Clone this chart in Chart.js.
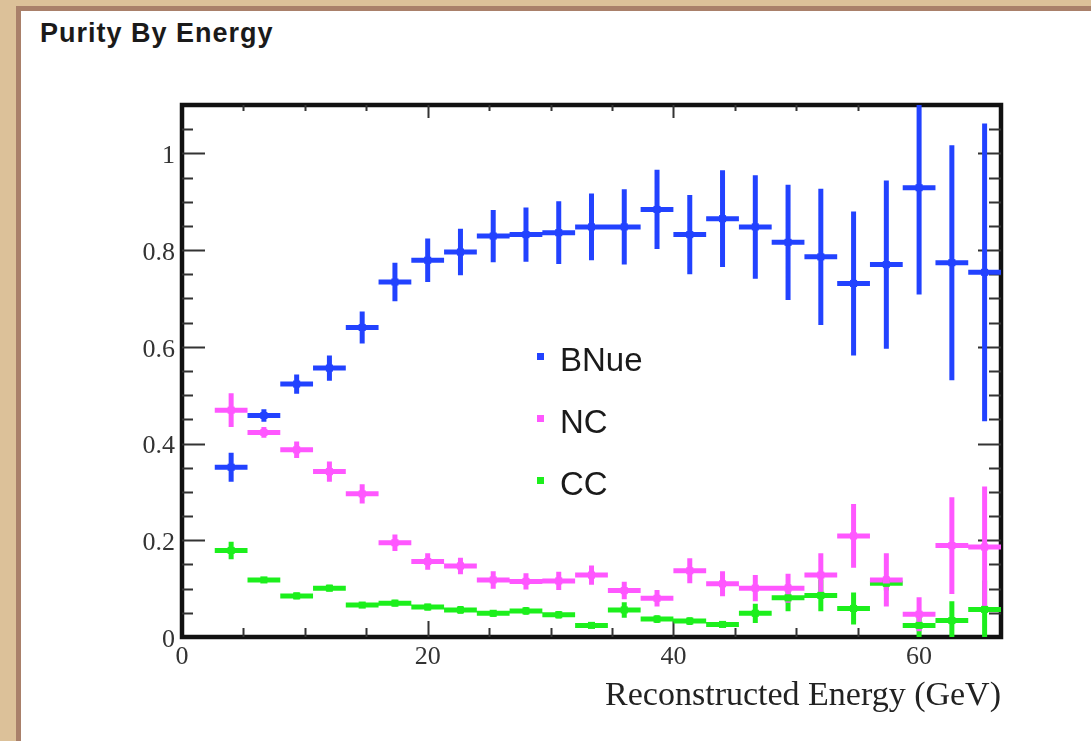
<!DOCTYPE html>
<html>
<head>
<meta charset="utf-8">
<script src="https://cdn.jsdelivr.net/npm/chart.js@4.4.1/dist/chart.umd.min.js"></script>
<style>
  html, body { margin: 0; padding: 0; }
  body { width: 1091px; height: 741px; background: #dcc199; position: relative; overflow: hidden; }
  #panel { position: absolute; left: 16px; top: 6px; right: 0; bottom: 0; background: #fff;
           border-left: 5px solid #a9806a; border-top: 5px solid #a9806a; }
  #title { position: absolute; left: 40px; top: 20px; font: bold 27px "Liberation Sans", Arial, sans-serif;
           line-height: 27px; color: #1a1a1a; letter-spacing: 1px; white-space: nowrap; }
  #chart { position: absolute; left: 0; top: 0; }
</style>
</head>
<body>
<div id="panel"></div>
<div id="title">Purity By Energy</div>
<canvas id="chart" width="1091" height="741"></canvas>
<script>
// reconstructed energy bins (GeV), 24 bins of 8/3 GeV
const binEdges = [2.667, 5.333, 8, 10.667, 13.333, 16, 18.667, 21.333, 24, 26.667, 29.333, 32,
  34.667, 37.333, 40, 42.667, 45.333, 48, 50.667, 53.333, 56, 58.667, 61.333, 64, 66.667];
const binCenters = [4, 6.667, 9.333, 12, 14.667, 17.333, 20, 22.667, 25.333, 28, 30.667, 33.333,
  36, 38.667, 41.333, 44, 46.667, 49.333, 52, 54.667, 57.333, 60, 62.667, 65.333];

const seriesNames = ['BNue', 'NC', 'CC'];
const seriesColors = ['#2242ff', '#ff57ff', '#1cef1c'];

const bnue = [0.351, 0.458, 0.523, 0.556, 0.640, 0.734, 0.779, 0.796, 0.829, 0.832, 0.836, 0.848,
  0.848, 0.884, 0.832, 0.865, 0.848, 0.816, 0.786, 0.731, 0.770, 0.929, 0.774, 0.754];
const bnueErr = [0.030, 0.013, 0.020, 0.026, 0.033, 0.040, 0.045, 0.048, 0.054, 0.056, 0.065, 0.069,
  0.078, 0.082, 0.082, 0.100, 0.107, 0.119, 0.141, 0.149, 0.174, 0.221, 0.243, 0.308];

const nc = [0.469, 0.423, 0.387, 0.342, 0.296, 0.195, 0.156, 0.147, 0.118, 0.115, 0.116, 0.128,
  0.096, 0.080, 0.137, 0.110, 0.101, 0.101, 0.128, 0.209, 0.118, 0.047, 0.189, 0.186];
const ncErr = [0.035, 0.011, 0.017, 0.021, 0.020, 0.017, 0.017, 0.017, 0.018, 0.017, 0.019, 0.020,
  0.018, 0.017, 0.026, 0.026, 0.027, 0.030, 0.045, 0.066, 0.055, 0.035, 0.100, 0.125];

const cc = [0.179, 0.118, 0.085, 0.101, 0.066, 0.070, 0.062, 0.056, 0.049, 0.054, 0.046, 0.024,
  0.056, 0.037, 0.033, 0.026, 0.049, 0.081, 0.086, 0.059, 0.111, 0.024, 0.034, 0.057];
const ccErr = [0.018, 0.006, 0.007, 0.007, 0.006, 0.007, 0.007, 0.008, 0.007, 0.008, 0.008, 0.005,
  0.016, 0.008, 0.008, 0.006, 0.020, 0.028, 0.033, 0.033, 0.015, 0.025, 0.040, 0.060];

const serif = '"Liberation Serif", "Times New Roman", serif';

function points(vals, errs) {
  return vals.map((v, i) => ({ x: binCenters[i], y: v, err: errs[i] }));
}

// ROOT-style frame with inward ticks, bin-wide error crosses and in-pad legend
const rootStyle = {
  id: 'rootStyle',
  beforeDatasetsDraw(chart) {
    const { ctx, chartArea: a, scales: { x, y } } = chart;
    ctx.save();
    ctx.strokeStyle = '#111';
    ctx.lineWidth = 4.5;
    ctx.strokeRect(a.left, a.top, a.right - a.left, a.bottom - a.top);

    ctx.strokeStyle = '#333';
    ctx.lineWidth = 2;
    ctx.beginPath();
    x.ticks.forEach(t => {
      const v = t.value;
      if (v <= x.min || v >= x.max || Math.abs(v / 5 - Math.round(v / 5)) > 1e-6) return;
      const major = Math.abs(v % 20) < 1e-6;
      const px = Math.round(x.getPixelForValue(v)) + 0.5;
      ctx.moveTo(px, a.bottom); ctx.lineTo(px, a.bottom - (major ? 16 : 9));
      ctx.moveTo(px, a.top); ctx.lineTo(px, a.top + (major ? 13 : 6));
    });
    y.ticks.forEach(t => {
      const v = t.value;
      if (v <= y.min || v >= y.max - 1e-6) return;
      const major = Math.round(v * 100) % 20 === 0;
      const py = Math.round(y.getPixelForValue(v)) + 0.5;
      ctx.moveTo(a.left, py); ctx.lineTo(a.left + (major ? 23 : 11), py);
      ctx.moveTo(a.right, py); ctx.lineTo(a.right - (major ? 23 : 12), py);
    });
    ctx.stroke();

    // error crosses, last series first so the first one ends on top
    ctx.beginPath();
    ctx.rect(a.left, a.top, a.right - a.left, a.bottom - a.top);
    ctx.clip();
    ctx.lineWidth = 5;
    ctx.lineCap = 'butt';
    for (let i = chart.data.datasets.length - 1; i >= 0; i--) {
      const ds = chart.data.datasets[i];
      ctx.strokeStyle = ds.borderColor;
      ctx.beginPath();
      ds.data.forEach((p, j) => {
        const xc = x.getPixelForValue(p.x);
        const yc = y.getPixelForValue(p.y);
        ctx.moveTo(x.getPixelForValue(binEdges[j]), yc);
        ctx.lineTo(x.getPixelForValue(binEdges[j + 1]), yc);
        ctx.moveTo(xc, y.getPixelForValue(p.y - p.err));
        ctx.lineTo(xc, y.getPixelForValue(p.y + p.err));
      });
      ctx.stroke();
    }
    ctx.restore();
  },
  afterDraw(chart) {
    const { ctx, chartArea: a } = chart;
    ctx.save();
    ctx.font = '33px "Liberation Sans", Arial, sans-serif';
    ctx.textBaseline = 'alphabetic';
    chart.data.datasets.forEach((ds, i) => {
      const base = a.top + 266 + i * 62;
      ctx.fillStyle = ds.backgroundColor;
      ctx.fillRect(a.left + 355, base - 18, 7, 7);
      ctx.fillStyle = '#1a1a1a';
      ctx.fillText(ds.label, a.left + 378, base);
    });
    ctx.restore();
  }
};

new Chart(document.getElementById('chart'), {
  type: 'scatter',
  data: {
    datasets: [
      { label: seriesNames[0], data: points(bnue, bnueErr) },
      { label: seriesNames[1], data: points(nc, ncErr) },
      { label: seriesNames[2], data: points(cc, ccErr) }
    ].map((d, i) => Object.assign(d, {
      borderColor: seriesColors[i],
      backgroundColor: seriesColors[i],
      pointStyle: 'rect',
      pointRadius: 5,
      pointBorderWidth: 0,
      clip: 0
    }))
  },
  options: {
    responsive: false,
    animation: false,
    layout: { padding: { left: 0, top: 105, right: 90, bottom: 0 } },
    plugins: { legend: { display: false }, tooltip: { enabled: false } },
    scales: {
      x: {
        type: 'linear',
        min: 0,
        max: binEdges[binEdges.length - 1],
        afterFit: s => { s.height = 104; },
        grid: { display: false, drawTicks: false },
        border: { display: false },
        ticks: {
          stepSize: 5, autoSkip: false, maxRotation: 0, padding: 5, color: '#333',
          font: { family: serif, size: 26 },
          callback: v => (Math.abs(v % 20) < 1e-6 ? String(v) : '')
        },
        title: {
          display: true, text: 'Reconstructed Energy (GeV)', align: 'end', color: '#222',
          font: { family: serif, size: 34, lineHeight: 1.2 }, padding: { top: 0, bottom: 25 }
        }
      },
      y: {
        min: 0,
        max: 1.1,
        afterFit: s => { s.width = 182; },
        grid: { display: false, drawTicks: false },
        border: { display: false },
        ticks: {
          stepSize: 0.05, autoSkip: false, padding: 7, labelOffset: 3, color: '#333',
          font: { family: serif, size: 26 },
          callback: v => {
            const r = Math.round(v * 100);
            return r % 20 === 0 ? String(r / 100) : '';
          }
        }
      }
    }
  },
  plugins: [rootStyle]
});
</script>
</body>
</html>
